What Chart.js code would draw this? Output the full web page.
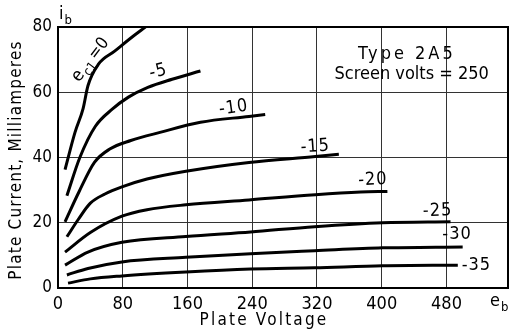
<!DOCTYPE html>
<html>
<head>
<meta charset="utf-8">
<script src="https://cdn.jsdelivr.net/npm/chart.js@4.4.0/dist/chart.umd.min.js"></script>
<style>
  html, body { margin: 0; padding: 0; background: #fff; }
  #wrap { width: 509px; height: 331px; position: relative; }
</style>
</head>
<body>
<div id="wrap"><canvas id="plateChart"></canvas></div>
<script>
const FONT = "'DejaVu Sans Condensed', 'DejaVu Sans', sans-serif";

// axis ticks
const xTicks = [0, 80, 160, 240, 320, 400, 480];
const yTicks = [0, 20, 40, 60, 80];

// plate voltage (V) / plate current (mA), one pair per grid bias curve
const ec0Volts = [8.7, 21, 31, 37, 50, 70, 92, 108];
const ec0Amps = [36.3, 47.7, 55, 62, 68.6, 72.6, 77, 80];

const ec5Volts = [11, 27, 46, 67, 87, 111, 141, 176];
const ec5Amps = [28.3, 40, 49.5, 54.8, 58.5, 61.5, 64, 66.5];

const ec10Volts = [8.7, 26, 45, 64, 90, 126, 176, 236, 256];
const ec10Amps = [20.3, 29.5, 38.5, 42.6, 45.2, 47.7, 50.8, 52.6, 53.2];

const ec15Volts = [11, 25, 40, 58, 79, 110, 158, 236, 318, 347];
const ec15Amps = [15.7, 21, 26, 28.8, 31, 33.4, 35.8, 38.5, 40.3, 41];

const ec20Volts = [8.7, 40, 79, 110, 158, 236, 318, 374, 407];
const ec20Amps = [11, 17, 22, 24, 25.5, 27, 28.6, 29.4, 29.6];

const ec25Volts = [8.7, 37, 79, 158, 238, 317, 401, 485];
const ec25Amps = [7, 11, 14, 15.8, 17.2, 18.8, 20, 20.3];

const ec30Volts = [11, 37, 79, 158, 238, 317, 401, 500];
const ec30Amps = [4, 6, 8, 9.4, 10.5, 11.4, 12.3, 12.6];

const ec35Volts = [12.4, 40, 79, 158, 238, 317, 401, 494];
const ec35Amps = [1.5, 2.8, 3.7, 4.9, 5.8, 6.2, 6.8, 7];

const curves = [
  { bias: 0, volts: ec0Volts, amps: ec0Amps },
  { bias: -5, volts: ec5Volts, amps: ec5Amps },
  { bias: -10, volts: ec10Volts, amps: ec10Amps },
  { bias: -15, volts: ec15Volts, amps: ec15Amps },
  { bias: -20, volts: ec20Volts, amps: ec20Amps },
  { bias: -25, volts: ec25Volts, amps: ec25Amps },
  { bias: -30, volts: ec30Volts, amps: ec30Amps },
  { bias: -35, volts: ec35Volts, amps: ec35Amps },
];

// curve labels, anchored in data units (volts, mA)
const biasLabels = [
  { text: "-5", v: 124, i: 66.3, rot: -14 },
  { text: "-10", v: 217, i: 55.2, rot: -8 },
  { text: "-15", v: 318, i: 43.3, rot: -4 },
  { text: "-20", v: 389, i: 33.1, rot: -3 },
  { text: "-25", v: 469, i: 23.6, rot: -2 },
  { text: "-30", v: 493, i: 16.6, rot: 0 },
  { text: "-35", v: 517, i: 7.1, rot: 0 },
];

const datasets = curves.map((c) => ({
  label: "ec1 = " + c.bias,
  data: c.volts.map((v, k) => ({ x: v, y: c.amps[k] })),
  borderColor: "#000",
  borderWidth: 3,
  pointRadius: 0,
  fill: false,
  cubicInterpolationMode: "monotone",
}));

function subText(ctx, main, sub, x, y, size) {
  ctx.font = size + "px " + FONT;
  ctx.textAlign = "left";
  ctx.textBaseline = "alphabetic";
  ctx.fillText(main, x, y);
  const w = ctx.measureText(main).width;
  ctx.font = Math.round(size * 0.72) + "px " + FONT;
  ctx.fillText(sub, x + w + 1, y + size * 0.25);
}

const annotate = {
  id: "annotate",
  afterDraw(chart) {
    const { ctx, chartArea: a, scales } = chart;
    const xs = scales.x, ys = scales.y;
    ctx.save();
    ctx.strokeStyle = "#000";
    ctx.lineWidth = 2;
    ctx.strokeRect(a.left, a.top, a.right - a.left, a.bottom - a.top);

    ctx.fillStyle = "#000";
    ctx.textAlign = "center";
    ctx.textBaseline = "middle";
    ctx.font = "18px " + FONT;
    ctx.letterSpacing = "1px";
    biasLabels.forEach((l) => {
      ctx.save();
      ctx.translate(xs.getPixelForValue(l.v), ys.getPixelForValue(l.i));
      ctx.rotate((l.rot * Math.PI) / 180);
      ctx.fillText(l.text, 0, 0);
      ctx.restore();
    });
    ctx.letterSpacing = "0px";

    // e_c1 = 0 label along the steep curve
    ctx.save();
    ctx.translate(xs.getPixelForValue(20), ys.getPixelForValue(64));
    ctx.rotate((-53 * Math.PI) / 180);
    subText(ctx, "e", "c1", 0, 6, 18);
    ctx.font = "17px " + FONT;
    ctx.fillText("=0", 28, 6);
    ctx.restore();

    ctx.textAlign = "center";
    ctx.textBaseline = "middle";
    ctx.font = "18px " + FONT;
    ctx.letterSpacing = "3px";
    ctx.fillText("Type 2A5", xs.getPixelForValue(431), ys.getPixelForValue(71.5));
    ctx.letterSpacing = "0px";
    ctx.fillText("Screen volts = 250", xs.getPixelForValue(437), ys.getPixelForValue(65.6));

    // axis symbols
    subText(ctx, "i", "b", a.left + 1, 19, 18);
    subText(ctx, "e", "b", a.right - 18, 306, 18);

    // axis titles
    ctx.font = "17px " + FONT;
    ctx.textAlign = "center";
    ctx.textBaseline = "middle";
    ctx.letterSpacing = "2.2px";
    ctx.fillText("Plate Voltage", 264, 321);
    ctx.letterSpacing = "1.2px";
    ctx.save();
    ctx.translate(17, 160);
    ctx.rotate(-Math.PI / 2);
    ctx.fillText("Plate Current, Milliamperes", 0, 0);
    ctx.restore();
    ctx.letterSpacing = "0px";
    ctx.restore();
  },
};

new Chart(document.getElementById("plateChart"), {
  type: "line",
  data: { datasets },
  plugins: [annotate],
  options: {
    responsive: true,
    maintainAspectRatio: false,
    animation: false,
    layout: { padding: { left: 0, top: 27, right: 1, bottom: 0 } },
    plugins: {
      legend: { display: false },
      tooltip: { enabled: false },
    },
    scales: {
      x: {
        type: "linear",
        min: 0,
        max: 556,
        afterBuildTicks: (axis) => {
          axis.ticks = xTicks.map((v) => ({ value: v }));
        },
        afterFit: (axis) => {
          axis.height = 43;
        },
        grid: { color: "#333", lineWidth: 1, drawTicks: false },
        border: { color: "#000", width: 2 },
        ticks: {
          color: "#000",
          padding: 6,
          maxRotation: 0,
          font: { family: FONT, size: 18 },
        },
      },
      y: {
        type: "linear",
        min: 0,
        max: 80,
        afterBuildTicks: (axis) => {
          axis.ticks = yTicks.map((v) => ({ value: v }));
        },
        afterFit: (axis) => {
          axis.width = 58;
        },
        grid: { color: "#333", lineWidth: 1, drawTicks: false },
        border: { color: "#000", width: 2 },
        ticks: {
          color: "#000",
          padding: 6,
          font: { family: FONT, size: 17 },
        },
      },
    },
  },
});
</script>
</body>
</html>
